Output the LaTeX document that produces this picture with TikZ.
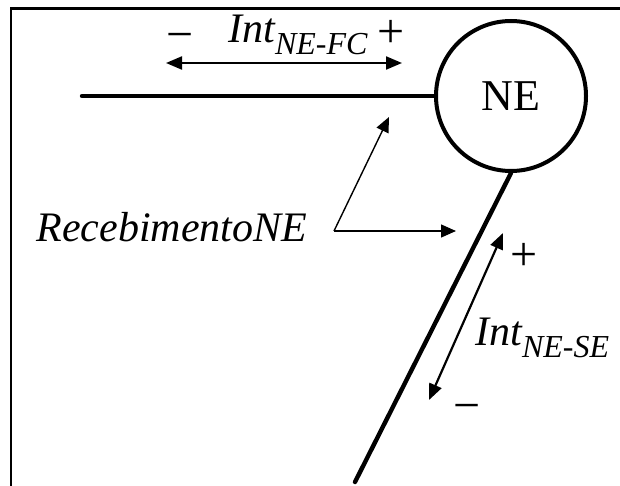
\documentclass[tikz,border=0pt]{standalone}
\usepackage{fontspec}
\setmainfont{Liberation Serif}
\usepackage{tikz}
\usetikzlibrary{arrows.meta}
\newcommand{\lblfont}{\itshape\fontsize{21}{23}\selectfont}
\newcommand{\intlbl}[1]{Int\raisebox{-6pt}{\fontsize{16}{17}\selectfont #1}}

\begin{document}
\begin{tikzpicture}[x=0.5pt,y=-0.5pt,
  road/.style={line width=2.2pt,line cap=round},
  dim/.style={line width=1.1pt,{Triangle[length=8pt,width=6.5pt]}-{Triangle[length=8pt,width=6.5pt]}},
  callout/.style={line width=0.7pt,-{Triangle[length=7.5pt,width=6.5pt]}},
  lbl/.style={inner sep=0pt,font=\lblfont}]
\useasboundingbox (0,0) rectangle (620,486);
\draw[line width=1.3pt] (11,486) -- (11,8.5) -- (620,8.5);
\node[draw,circle,line width=2pt,minimum size=75pt,inner sep=0pt,font=\fontsize{22}{25}\selectfont] (ne) at (511,96) {NE};
\coordinate (fcend) at (82,96);
\coordinate (seend) at (355,482);
\draw[road] (fcend) -- (ne.west);
\draw[road] (ne.south) -- (seend);
\coordinate (fcminus) at (166,63);
\coordinate (fcplus) at (402,63);
\coordinate (seplus) at (503,233);
\coordinate (seminus) at (429,400);
\draw[dim] (fcminus) -- (fcplus);
\draw[dim] (seminus) -- (seplus);
\foreach \n/\x/\y/\s in {mfc/180/42/−,pfc/391/34/+,pse/524/257/+,mse/467/413/−} {
  \node[lbl,font=\fontsize{24}{26}\selectfont] (\n) at (\x,\y) {\s};
}
\node[lbl,anchor=base west] (intfc) at (228,43) {\intlbl{NE-FC}};
\node[lbl,anchor=base west] (intse) at (475,345) {\intlbl{NE-SE}};
\node[lbl,anchor=base west] (receb) at (36,242) {RecebimentoNE};
\coordinate (bend) at (334,231);
\coordinate (tipfc) at (389,117);
\coordinate (tipse) at (456,231);
\draw[callout] (bend) -- (tipfc);
\draw[callout] (bend) -- (tipse);
\end{tikzpicture}
\end{document}
